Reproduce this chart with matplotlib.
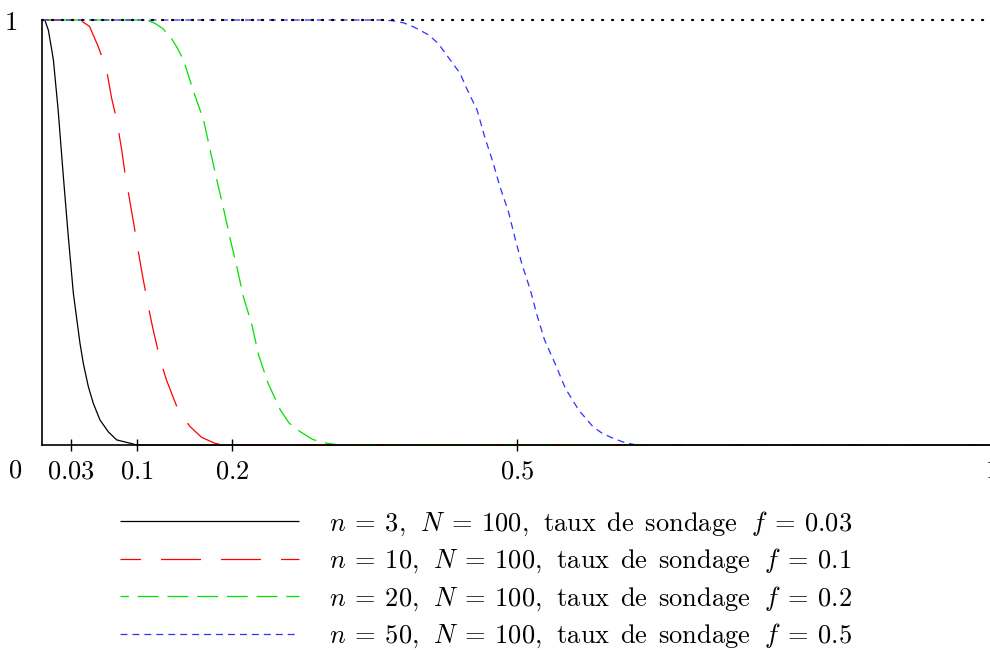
import matplotlib
matplotlib.use("Agg")
import matplotlib.pyplot as plt

plt.rcParams['mathtext.fontset'] = 'cm'
plt.rcParams['font.family'] = ['DejaVu Serif']
plt.rcParams['lines.scale_dashes'] = False

# Data
x_n3 = [0.0, 0.003, 0.0067, 0.0091, 0.012, 0.017, 0.0225, 0.0277, 0.033, 0.040, 0.0435, 0.0488,
        0.054, 0.061, 0.0698, 0.0786, 0.093, 0.10, 1.0]
y_n3 = [1.0, 1.0, 0.976, 0.945, 0.906, 0.788, 0.631, 0.490, 0.357, 0.239, 0.192, 0.137,
        0.098, 0.059, 0.031, 0.012, 0.004, 0.0, 0.0]

x_n10 = [0.0, 0.04, 0.050, 0.0593, 0.068, 0.0733, 0.0786, 0.0839, 0.0874, 0.0926, 0.0968, 0.102, 0.106,
         0.112, 0.117, 0.124, 0.131, 0.142, 0.150, 0.156, 0.168, 0.182, 0.19, 1.0]
y_n10 = [1.0, 1.0, 0.985, 0.937, 0.882, 0.816, 0.765, 0.694, 0.639, 0.572, 0.518, 0.447, 0.396,
         0.325, 0.271, 0.204, 0.153, 0.090, 0.061, 0.043, 0.018, 0.004, 0.0, 0.0]

x_n20 = [0.0, 0.11, 0.119, 0.127, 0.135, 0.142, 0.149, 0.159, 0.170, 0.177, 0.184, 0.191, 0.198,
         0.205, 0.212, 0.221, 0.228, 0.238, 0.251, 0.260, 0.272, 0.285, 0.300, 0.314, 1.0]
y_n20 = [1.0, 1.0, 0.992, 0.980, 0.961, 0.936, 0.906, 0.835, 0.765, 0.694, 0.624, 0.557, 0.486,
         0.420, 0.349, 0.282, 0.212, 0.145, 0.082, 0.052, 0.031, 0.013, 0.004, 0.0, 0.0]

x_n50 = [0.0, 0.360, 0.370, 0.381, 0.391, 0.407, 0.417, 0.431, 0.440, 0.447, 0.458, 0.466, 0.475,
         0.482, 0.491, 0.498, 0.505, 0.514, 0.521, 0.529, 0.540, 0.551, 0.565, 0.580, 0.590,
         0.601, 0.613, 0.626, 1.0]
y_n50 = [1.0, 1.0, 0.998, 0.993, 0.984, 0.965, 0.945, 0.902, 0.875, 0.839, 0.788, 0.725, 0.663,
         0.608, 0.549, 0.486, 0.427, 0.365, 0.306, 0.247, 0.192, 0.133, 0.082, 0.043, 0.027,
         0.016, 0.006, 0.0, 0.0]

x_ref = [0.0, 1.0]
y_ref = [1.0, 1.0]

labels = [r'$n\:=\:3,\;\, N\:=\:100,\;\,\mathrm{taux\ \,de\ \,sondage}\ \,\, f\:=\:0.03$',
          r'$n\:=\:10,\;\, N\:=\:100,\;\,\mathrm{taux\ \,de\ \,sondage}\ \,\, f\:=\:0.1$',
          r'$n\:=\:20,\;\, N\:=\:100,\;\,\mathrm{taux\ \,de\ \,sondage}\ \,\, f\:=\:0.2$',
          r'$n\:=\:50,\;\, N\:=\:100,\;\,\mathrm{taux\ \,de\ \,sondage}\ \,\, f\:=\:0.5$']
xticks = [0.03, 0.1, 0.2, 0.5, 1.0]
xticklabels = [r'$0.03$', r'$0.1$', r'$0.2$', r'$0.5$', r'$1$']

FS = 19

fig = plt.figure(figsize=(9.9, 6.5), dpi=100)
ax = fig.add_axes([42/990, 205/650, 950/990, 425/650])

lw = 0.9
series = [
    (x_n3, y_n3, '#000000', (0, ())),
    (x_n10, y_n10, '#ff0000', (14, (28.8, 14.4))),
    (x_n20, y_n20, '#00e000', (9, (15.0, 6.4))),
    (x_n50, y_n50, '#3030ff', (0, (5.0, 3.6))),
]
handles = []
for (xs, ys, c, ls), lab in zip(series, labels):
    ln, = ax.plot(xs, ys, color=c, lw=lw, linestyle=ls, clip_on=False, label=lab)
    handles.append(ln)

ax.plot(x_ref, y_ref, color='#000000', lw=1.6, linestyle=(0, (0.8, 6.4)),
        dash_capstyle='round', clip_on=False, zorder=5)

ax.set_xlim(0, 1)
ax.set_ylim(0, 1)
for s in ['top', 'right']:
    ax.spines[s].set_visible(False)
for s in ['left', 'bottom']:
    ax.spines[s].set_linewidth(1.2)

ax.set_xticks(xticks)
ax.set_xticklabels(xticklabels, fontsize=FS)
ax.tick_params(axis='x', direction='inout', length=9, width=1.0, pad=5)
ax.set_yticks([1.0])
ax.set_yticklabels([r'$1$'], fontsize=FS)
ax.tick_params(axis='y', length=0, pad=18)
ax.text(-0.028, -0.06, r'$0$', fontsize=FS, ha='center', va='center', transform=ax.transAxes)

leg = fig.legend(handles=handles, labels=labels, loc='upper left',
                 bbox_to_anchor=(120/990, 1 - 509/650), frameon=False,
                 fontsize=FS, handlelength=6.8, handletextpad=1.12,
                 labelspacing=0.34, borderpad=0, borderaxespad=0)

fig.savefig('out.png', dpi=100)
